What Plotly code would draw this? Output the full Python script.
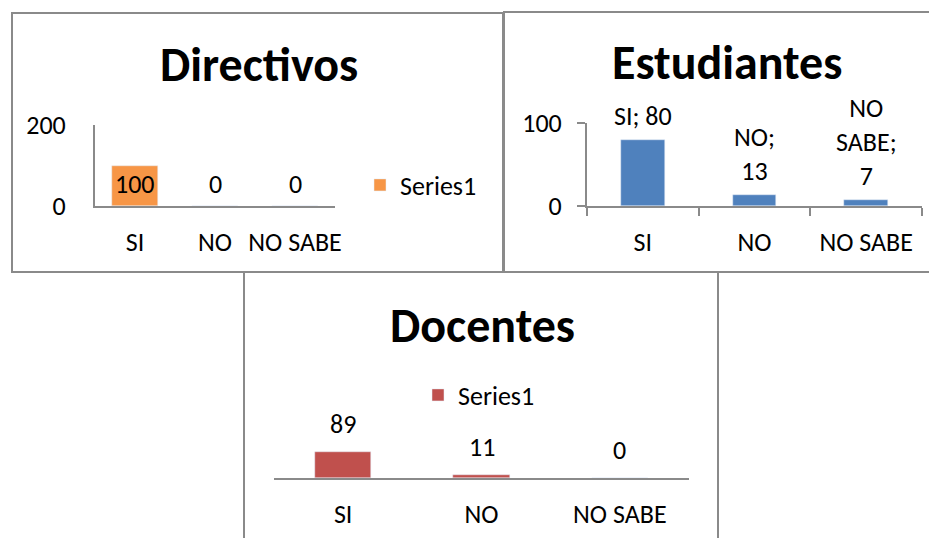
import plotly.graph_objects as go

# data
categories = ["SI", "NO", "NO SABE"]
directivos = [100, 0, 0]
estudiantes = [80, 13, 7]
docentes = [89, 11, 0]
est_wrap = [False, True, True]  # excel wrapped these labels

W, H = 937, 538
FONT = "Calibri, Carlito, Lato, sans-serif"
GRAY = "#8a8a8a"
OFF = 8  # page body margin


def px(x):
    return (x - OFF) / W


def py(y):
    return 1 - (y - OFF) / H


fig = go.Figure()

fig.add_trace(go.Bar(x=categories, y=directivos, name="Series1", marker_color="#F79646",
                     width=0.575, xaxis="x", yaxis="y", legend="legend", showlegend=True))
fig.add_trace(go.Bar(x=categories, y=estudiantes, name="Series1", marker_color="#4F81BD",
                     width=0.39, xaxis="x2", yaxis="y2", showlegend=False))
fig.add_trace(go.Bar(x=categories, y=docentes, name="Series1", marker_color="#C0504D",
                     width=0.405, xaxis="x3", yaxis="y3", legend="legend2", showlegend=True))

tick_font = dict(family=FONT, size=26, color="black")

fig.update_layout(
    width=W, height=H,
    margin=dict(l=0, r=0, t=0, b=0, autoexpand=False),
    paper_bgcolor="white", plot_bgcolor="white",
    font=dict(family=FONT, size=26, color="black"),
    bargap=0,
    # Directivos
    xaxis=dict(domain=[px(95), px(335)], anchor="y", showline=True, linecolor=GRAY, linewidth=2,
               ticks="", tickfont=tick_font, ticklabelstandoff=12, showgrid=False),
    yaxis=dict(domain=[py(206), py(125)], anchor="x", range=[0, 200], tickvals=[0, 200],
               showline=True, linecolor=GRAY, linewidth=2, showgrid=True, gridcolor=GRAY,
               gridwidth=2, zeroline=False, ticks="", tickfont=tick_font, ticklabelstandoff=22),
    # Estudiantes
    xaxis2=dict(domain=[px(587), px(922)], anchor="y2", showline=True, linecolor=GRAY, linewidth=2,
                ticks="outside", tickson="boundaries", ticklen=8, tickcolor=GRAY, tickwidth=2,
                tickfont=tick_font, ticklabelstandoff=12, showgrid=False),
    yaxis2=dict(domain=[py(206), py(123)], anchor="x2", range=[0, 100], tickvals=[0, 100],
                showline=True, linecolor=GRAY, linewidth=2, showgrid=True, gridcolor=GRAY,
                gridwidth=2, zeroline=False, ticks="outside", ticklen=8, tickcolor=GRAY,
                tickwidth=2, tickfont=tick_font, ticklabelstandoff=10),
    # Docentes
    xaxis3=dict(domain=[px(274), px(689)], anchor="y3", showline=True, linecolor=GRAY, linewidth=2,
                ticks="", tickfont=tick_font, ticklabelstandoff=12, showgrid=False),
    yaxis3=dict(domain=[py(478), py(449)], anchor="x3", range=[0, 100], visible=False),
    legend=dict(x=px(360), y=py(185), xanchor="left", yanchor="middle",
                font=dict(family=FONT, size=26), bgcolor="rgba(0,0,0,0)"),
    legend2=dict(x=px(418), y=py(395), xanchor="left", yanchor="middle",
                 font=dict(family=FONT, size=26), bgcolor="rgba(0,0,0,0)"),
)

# panel frames
for x0, y0, x1, y1 in [(12, 13, 503, 272), (504, 12, 950, 272), (244, 272, 718, 550)]:
    fig.add_shape(type="rect", xref="paper", yref="paper", x0=px(x0), x1=px(x1),
                  y0=py(y1), y1=py(y0), line=dict(color=GRAY, width=2), layer="below")

# titles
for text, cx, cy in [("Directivos", 259, 64), ("Estudiantes", 727, 63), ("Docentes", 482, 325)]:
    fig.add_annotation(text="<b>%s</b>" % text, xref="paper", yref="paper", x=px(cx), y=py(cy),
                       xanchor="center", yanchor="middle", showarrow=False,
                       font=dict(family=FONT, size=48, color="black"))

# data labels: Directivos (inside end, zeros placed at same height)
top = max(directivos)
for c, v in zip(categories, directivos):
    fig.add_annotation(text=str(v), x=c, y=top, xref="x", yref="y", yanchor="top",
                       showarrow=False, font=tick_font)

# Estudiantes: "category; value" above bars
for c, v, wrap in zip(categories, estudiantes, est_wrap):
    label = "%s; %s" % (c, v)
    if wrap:
        label = "<br>".join((c + ";").split(" ")) + "<br>" + str(v)
    fig.add_annotation(text=label, x=c, y=v, xref="x2", yref="y2", yanchor="bottom",
                       yshift=6, showarrow=False, font=tick_font)

# Docentes
for c, v in zip(categories, docentes):
    fig.add_annotation(text=str(v), x=c, y=v, xref="x3", yref="y3", yanchor="bottom",
                       yshift=10, showarrow=False, font=tick_font)

fig.write_html("out.html")
